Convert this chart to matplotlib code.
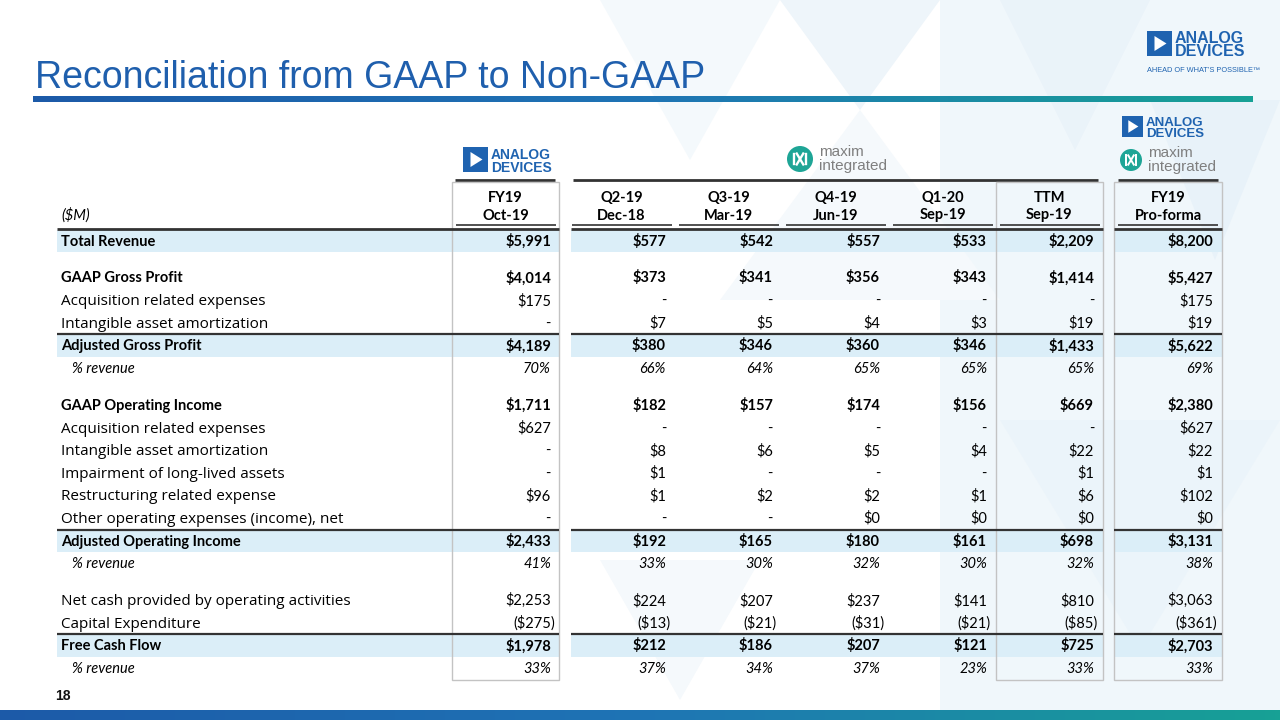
import numpy as np
import matplotlib
matplotlib.use("Agg")
import matplotlib.pyplot as plt
from matplotlib.patches import Rectangle, Circle, Polygon
from matplotlib.colors import LinearSegmentedColormap

TF = ["Lato", "DejaVu Sans"]
PF = ["Open Sans", "DejaVu Sans"]   # wider face for the plain (tracked) row labels
FS = 10.5

# ---- table data ($M) ----
row_labels = ["Total Revenue", None,
              "GAAP Gross Profit", "Acquisition related expenses", "Intangible asset amortization",
              "Adjusted Gross Profit", "% revenue", None,
              "GAAP Operating Income", "Acquisition related expenses", "Intangible asset amortization",
              "Impairment of long-lived assets", "Restructuring related expense",
              "Other operating expenses (income), net", "Adjusted Operating Income", "% revenue", None,
              "Net cash provided by operating activities", "Capital Expenditure", "Free Cash Flow", "% revenue"]
row_kind = ["total", "blank", "bold", "plain", "plain", "total", "pct", "blank",
            "bold", "plain", "plain", "plain", "plain", "plain", "total", "pct", "blank",
            "plain", "plain", "total", "pct"]
head_top = ["FY19", "Q2-19", "Q3-19", "Q4-19", "Q1-20", "TTM", "FY19"]
head_bot = ["Oct-19", "Dec-18", "Mar-19", "Jun-19", "Sep-19", "Sep-19", "Pro-forma"]

adi_fy19 = ["$5,991", "", "$4,014", "$175", "-", "$4,189", "70%", "",
            "$1,711", "$627", "-", "-", "$96", "-", "$2,433", "41%", "",
            "$2,253", "($275)", "$1,978", "33%"]
mxim_q2_19 = ["$577", "", "$373", "-", "$7", "$380", "66%", "",
              "$182", "-", "$8", "$1", "$1", "-", "$192", "33%", "",
              "$224", "($13)", "$212", "37%"]
mxim_q3_19 = ["$542", "", "$341", "-", "$5", "$346", "64%", "",
              "$157", "-", "$6", "-", "$2", "-", "$165", "30%", "",
              "$207", "($21)", "$186", "34%"]
mxim_q4_19 = ["$557", "", "$356", "-", "$4", "$360", "65%", "",
              "$174", "-", "$5", "-", "$2", "$0", "$180", "32%", "",
              "$237", "($31)", "$207", "37%"]
mxim_q1_20 = ["$533", "", "$343", "-", "$3", "$346", "65%", "",
              "$156", "-", "$4", "-", "$1", "$0", "$161", "30%", "",
              "$141", "($21)", "$121", "23%"]
mxim_ttm = ["$2,209", "", "$1,414", "-", "$19", "$1,433", "65%", "",
            "$669", "-", "$22", "$1", "$6", "$0", "$698", "32%", "",
            "$810", "($85)", "$725", "33%"]
proforma_fy19 = ["$8,200", "", "$5,427", "$175", "$19", "$5,622", "69%", "",
                 "$2,380", "$627", "$22", "$1", "$102", "$0", "$3,131", "38%", "",
                 "$3,063", "($361)", "$2,703", "33%"]
col_values = [adi_fy19, mxim_q2_19, mxim_q3_19, mxim_q4_19, mxim_q1_20, mxim_ttm, proforma_fy19]

# ---- layout (pixel coordinates) ----
col_right = [551, 666, 773, 880, 987, 1094, 1213]
col_center = [505.5, 621.5, 728.5, 835.5, 942.5, 1049.5, 1168]
groups = [(57, 559), (571, 1103), (1114, 1222)]
boxes = [(452, 559), (996, 1103), (1114, 1222)]
ROW_H, GAP_H = 22.6, 14.4
BL = 4.5   # baseline offset from row centre

fig = plt.figure(figsize=(12.8, 7.2), dpi=100)
ax = fig.add_axes([0, 0, 1, 1])
ax.axis("off")

# background: faint triangles
ax.add_patch(Rectangle((940, 0), 340, 710, color="#f0f7fb", lw=0, zorder=0))
for pts, c in [([(600, 0), (780, 0), (690, 160)], "#f4f9fc"),
               ([(780, 0), (940, 0), (860, 110)], "#eef5fa"),
               ([(860, 110), (1000, 300), (720, 300)], "#f5f9fc"),
               ([(1000, 0), (1150, 0), (1075, 150)], "#eaf3f9"),
               ([(1150, 100), (1280, 100), (1215, 260)], "#e8f2f9"),
               ([(600, 560), (760, 560), (680, 700)], "#f5f9fc"),
               ([(1000, 420), (1280, 420), (1140, 650)], "#ebf4fa")]:
    ax.add_patch(Polygon(pts, closed=True, color=c, lw=0, zorder=0))

grad = LinearSegmentedColormap.from_list("adi", ["#1c5aa8", "#1f74b5", "#17a195"])
def hbar(x0, x1, y0, y1):
    ax.imshow(np.linspace(0, 1, 256)[None, :], extent=[x0, x1, y1, y0],
              aspect="auto", cmap=grad, zorder=2)

# title + bars
ax.text(35, 88, "Reconciliation from GAAP to Non-GAAP", fontsize=27, color="#1f5fad",
        family=["Liberation Sans"], va="baseline", ha="left")
hbar(33, 1253, 96, 102)
hbar(0, 1280, 710, 720)
ax.text(55, 696, "18", fontsize=10, fontweight="bold", family=["Liberation Sans"],
        va="center", ha="left", color="#111111")

ADI_BLUE = "#1f63b0"
MX_TEAL = "#1ea596"

def adi_logo(x, y, s, fs):
    ax.add_patch(Rectangle((x, y), s, s, color=ADI_BLUE, lw=0, zorder=3))
    ax.add_patch(Polygon([(x + s * 0.3, y + s * 0.2), (x + s * 0.3, y + s * 0.8),
                          (x + s * 0.78, y + s * 0.5)], color="white", lw=0, zorder=4))
    ax.text(x + s + 3, y + s * 0.47, "ANALOG", fontsize=fs, fontweight="bold", color=ADI_BLUE,
            family=["Liberation Sans"], va="baseline", ha="left")
    ax.text(x + s + 3, y + s, "DEVICES", fontsize=fs, fontweight="bold", color=ADI_BLUE,
            family=["Liberation Sans"], va="baseline", ha="left")

def maxim_logo(cx, cy, r, fs):
    ax.add_patch(Circle((cx, cy), r, color=MX_TEAL, lw=0, zorder=3))
    k = r * 0.42
    w = r * 0.13
    ax.plot([cx - k * 1.15, cx - k * 1.15], [cy - k, cy + k], color="white", lw=w, zorder=4)
    ax.plot([cx + k * 1.15, cx + k * 1.15], [cy - k, cy + k], color="white", lw=w, zorder=4)
    ax.plot([cx - k * 0.6, cx + k * 0.6], [cy - k, cy + k], color="white", lw=w, zorder=4)
    ax.plot([cx - k * 0.6, cx + k * 0.6], [cy + k, cy - k], color="white", lw=w, zorder=4)
    ax.text(cx + r + 6, cy - 3, "maxim", fontsize=fs, color="#7f7f7f",
            family=["Liberation Sans"], va="baseline", ha="left")
    ax.text(cx + r + 6, cy + 11, "integrated", fontsize=fs, color="#7f7f7f",
            family=["Liberation Sans"], va="baseline", ha="left")

# top-right corporate logo
adi_logo(1147, 31, 25, 11.5)
ax.text(1147, 71, "AHEAD OF WHAT\u2019S POSSIBLE\u2122", fontsize=5.3, color=ADI_BLUE,
        family=["Liberation Sans"], va="center", ha="left")

# column-group logos
adi_logo(463, 147, 25, 10)
maxim_logo(800, 159, 13, 11)
adi_logo(1122, 116, 21, 9.5)
maxim_logo(1131, 160, 11, 11)

# header
for x0, x1 in [(455, 555), (573, 1098), (1118, 1218)]:
    ax.plot([x0, x1], [180, 180], color="#333333", lw=2, zorder=3, solid_capstyle="butt")
for bx0, bx1 in boxes:
    ax.add_patch(Rectangle((bx0, 182), bx1 - bx0, 680 - 182, fill=False,
                           ec="#c3c3c3", lw=1, zorder=3))
for i in range(len(head_top)):
    ax.text(col_center[i], 197 + BL, head_top[i], fontsize=FS, fontweight="bold", family=TF,
            ha="center", va="baseline", zorder=5)
    ax.text(col_center[i], 215 + BL, head_bot[i], fontsize=FS, fontweight="bold", family=TF,
            ha="center", va="baseline", zorder=5)
    ax.plot([col_center[i] - 50, col_center[i] + 50], [225, 225], color="#333333",
            lw=1.2, zorder=3, solid_capstyle="butt")
ax.text(61, 215 + BL, "($M)", fontsize=FS, fontstyle="italic", family=TF,
        ha="left", va="baseline", zorder=5)
for x0, x1 in groups:
    ax.plot([x0, x1], [228.5, 228.5], color="#333333", lw=2, zorder=4, solid_capstyle="butt")

# body rows
y = 241
for r, (lab, kind) in enumerate(zip(row_labels, row_kind)):
    if kind == "blank":
        y += GAP_H
        continue
    if kind == "total":
        for x0, x1 in groups:
            ax.add_patch(Rectangle((x0, y - 11), x1 - x0, 22, color="#dbeef8", lw=0, zorder=1))
        if r > 0:
            for x0, x1 in groups:
                ax.plot([x0, x1], [y - 11.5, y - 11.5], color="#333333", lw=1.6,
                        zorder=4, solid_capstyle="butt")
    bold = kind in ("total", "bold")
    ital = kind == "pct"
    style = dict(fontweight="bold" if bold else "normal",
                 fontstyle="italic" if ital else "normal", va="baseline", zorder=5)
    if kind == "plain":
        ax.text(61, y + BL, lab, fontsize=11, family=PF, ha="left", **style)
    else:
        ax.text(72 if ital else 61, y + BL, lab, fontsize=FS, family=TF, ha="left", **style)
    for c, vals in enumerate(col_values):
        v = vals[r]
        xr = col_right[c] + (4 if v.startswith("(") else 0)
        ax.text(xr, y + BL, v, fontsize=FS, family=TF, ha="right", **style)
    y += ROW_H

ax.set_xlim(0, 1280)
ax.set_ylim(720, 0)
fig.savefig("out.png", dpi=100, facecolor="white")
